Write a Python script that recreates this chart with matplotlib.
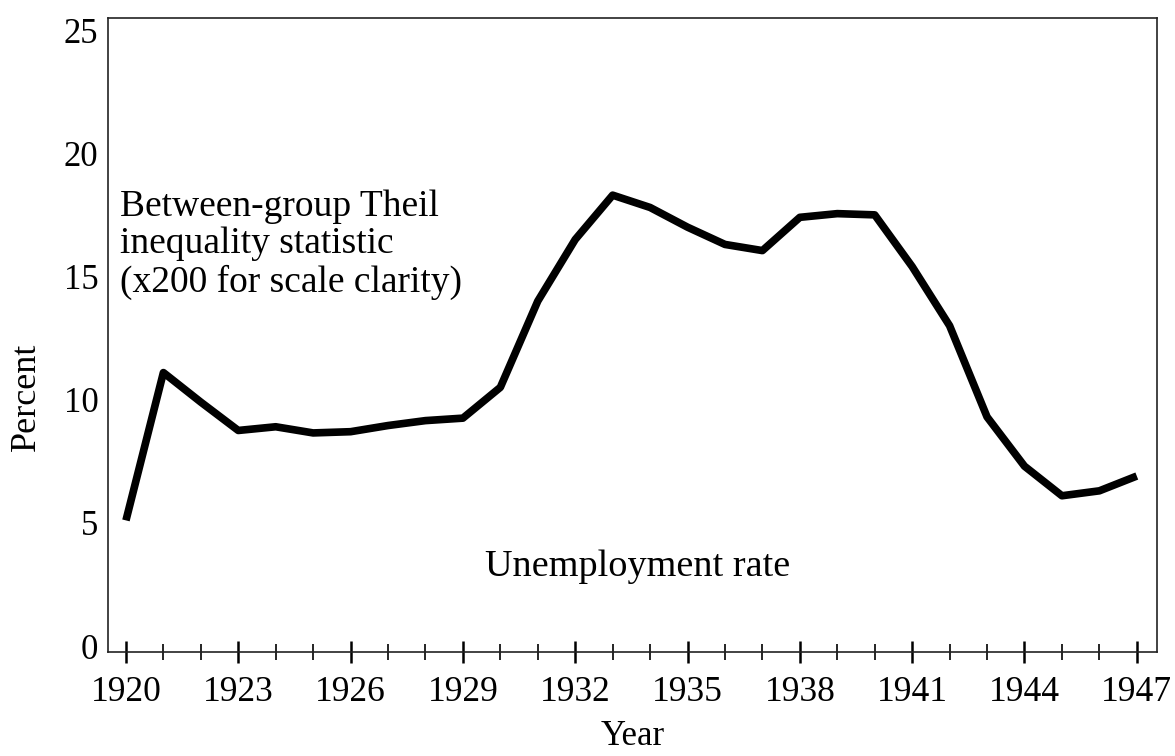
import matplotlib
matplotlib.use("Agg")
import matplotlib.pyplot as plt
from matplotlib.ticker import MultipleLocator

years = list(range(1920, 1948))
theil_x200 = [5.1, 11.1, 9.9, 8.75, 8.9, 8.65, 8.7, 8.95, 9.15, 9.25, 10.5,
              14.0, 16.5, 18.3, 17.8, 17.0, 16.3, 16.05, 17.4, 17.55, 17.5,
              15.4, 13.0, 9.3, 7.3, 6.1, 6.3, 6.9]

y_ticks = [0, 5, 10, 15, 20, 25]
x_tick_labels = list(range(1920, 1948, 3))

plt.rcParams['font.family'] = ['Liberation Serif', 'DejaVu Serif']

fig = plt.figure(figsize=(11.75, 7.56), dpi=100)
ax = fig.add_axes([0.0919, 0.1376, 0.8928, 0.8386])

ax.plot(years, theil_x200, color='black', linewidth=5.5, solid_joinstyle='round',
        solid_capstyle='butt')

ax.set_xlim(1919.52, 1947.54)
ax.set_ylim(-0.24, 25.49)

ax.set_yticks(y_ticks)
ax.set_yticklabels([str(v) for v in y_ticks])
ax.set_xticks(x_tick_labels)
ax.set_xticklabels([str(v) for v in x_tick_labels])
ax.xaxis.set_minor_locator(MultipleLocator(1))

ax.tick_params(axis='x', which='major', direction='inout', length=16, width=1.8,
               labelsize=25.5, pad=9, color='black')
ax.tick_params(axis='x', which='minor', direction='inout', length=12, width=1.2,
               color='black')
ax.tick_params(axis='y', which='both', length=0, labelsize=25, pad=7)

for s in ax.spines.values():
    s.set_linewidth(1.2)
    s.set_color('#222222')

ax.set_xlabel('Year', fontsize=25)
ax.set_ylabel('Percent', fontsize=26)
ax.xaxis.set_label_coords(0.5, -0.107)
ax.yaxis.set_label_coords(-0.062, 0.402)

ax.text(1919.85, 16.3, 'Between-group Theil\ninequality statistic\n(x200 for scale clarity)',
        fontsize=27, ha='left', va='center', linespacing=1.12)
ax.text(1933.67, 3.2, 'Unemployment rate', fontsize=27.5, ha='center', va='center')

fig.savefig('out.png', dpi=100)
